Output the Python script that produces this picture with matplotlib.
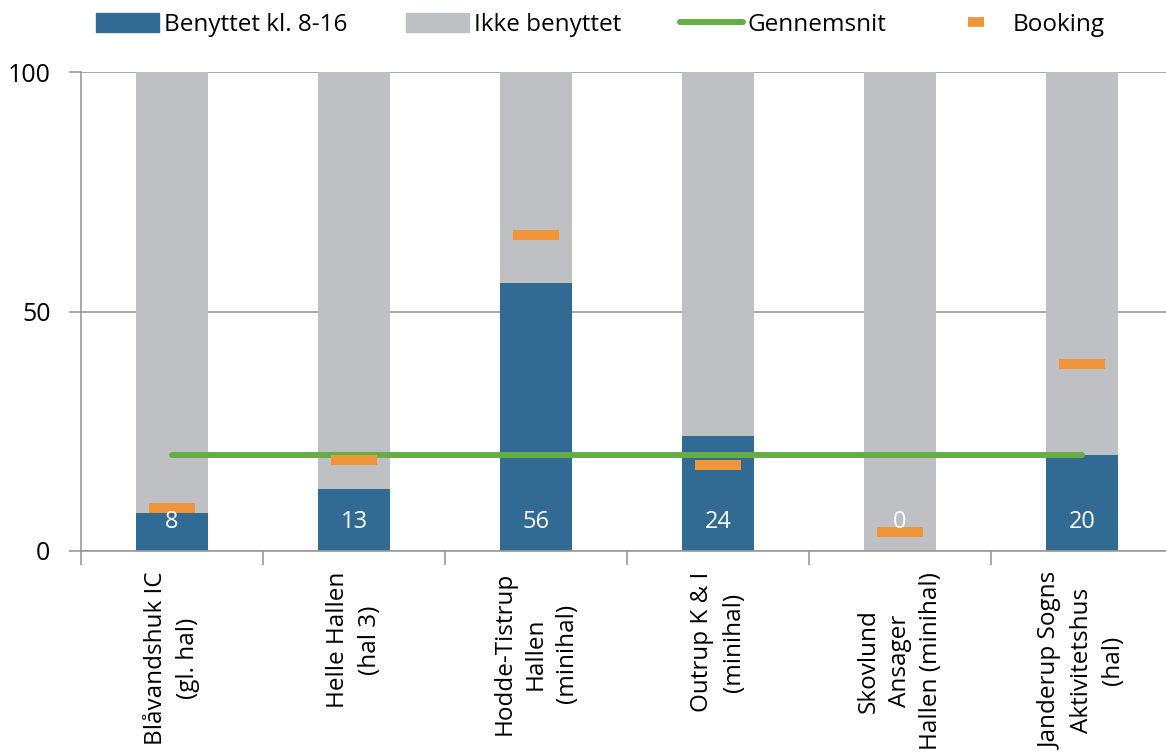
import matplotlib
matplotlib.use("Agg")
import matplotlib.pyplot as plt
from matplotlib.lines import Line2D
from matplotlib.patches import Patch
import numpy as np

categories = ["Blåvandshuk IC\n(gl. hal)", "Helle Hallen\n(hal 3)",
              "Hodde-Tistrup\nHallen\n(minihal)", "Outrup K & I\n(minihal)",
              "Skovlund\nAnsager\nHallen (minihal)", "Janderup Sogns\nAktivitetshus\n(hal)"]
used = [8, 13, 56, 24, 0, 20]
not_used = [100 - u for u in used]
booking = [9, 19, 66, 18, 4, 39]
average = [20, 20, 20, 20, 20, 20]

BLUE = "#316A92"
GRAY = "#BFC0C4"
GREEN = "#67AD47"
ORANGE = "#F0963A"
AXC = "#9A9A9A"

plt.rcParams['font.family'] = ['Open Sans', 'DejaVu Sans']

fig = plt.figure(figsize=(11.66, 7.55), dpi=100)
ax = fig.add_axes([81/1166, 1 - 551/755, 1092/1166, 479/755])

x = np.arange(len(categories))
ax.bar(x, used, width=0.4, color=BLUE, zorder=2)
ax.bar(x, not_used, bottom=used, width=0.4, color=GRAY, zorder=2)
ax.plot(x, average, color=GREEN, lw=4.3, solid_capstyle='round', zorder=3)
ax.plot(x, booking, linestyle='none', marker='_', markersize=33, markeredgewidth=7.2,
        color=ORANGE, zorder=4)

for xi, u in zip(x, used):
    ax.annotate(str(u), (xi, 0), xytext=(0, 29), textcoords='offset pixels',
                ha='center', va='center', color='white', fontsize=17, zorder=5)

ax.set_xlim(-0.5, len(categories) - 0.5)
ax.set_ylim(0, 100)
ax.set_yticks([0, 50, 100])
ax.yaxis.grid(True, color=AXC, lw=1.2, zorder=0)
ax.set_axisbelow(True)

ax.set_xticks(np.arange(-0.5, len(categories), 1.0))
ax.set_xticklabels([])
ax.set_xticks(x, minor=True)
ax.set_xticklabels(categories, minor=True, rotation=90, fontsize=17.5,
                   multialignment='center', va='top', ha='center', linespacing=1.4)
ax.tick_params(axis='x', which='major', length=10, width=1.2, color=AXC, direction='out')
ax.tick_params(axis='x', which='minor', length=0, pad=15)
ax.tick_params(axis='y', length=9, width=1.2, color=AXC, labelsize=18, pad=13)

for s in ['top', 'right']:
    ax.spines[s].set_visible(False)
for s in ['left', 'bottom']:
    ax.spines[s].set_color(AXC)
    ax.spines[s].set_linewidth(1.2)

handles = [Patch(facecolor=BLUE, edgecolor=BLUE),
           Patch(facecolor=GRAY, edgecolor=GRAY),
           Line2D([0], [0], color=GREEN, lw=4.3, solid_capstyle='round'),
           Line2D([0], [0], color=ORANGE, lw=0, marker='_', markersize=12, markeredgewidth=7)]
labels = ["Benyttet kl. 8-16", "Ikke benyttet", "Gennemsnit", "Booking"]
fig.legend(handles, labels, loc='upper center', bbox_to_anchor=(0.515, 1.012), ncol=4,
           frameon=False, fontsize=17.5, handlelength=2.6, handleheight=0.8,
           handletextpad=0.2, columnspacing=2.4)

fig.savefig("out.png", dpi=100)
